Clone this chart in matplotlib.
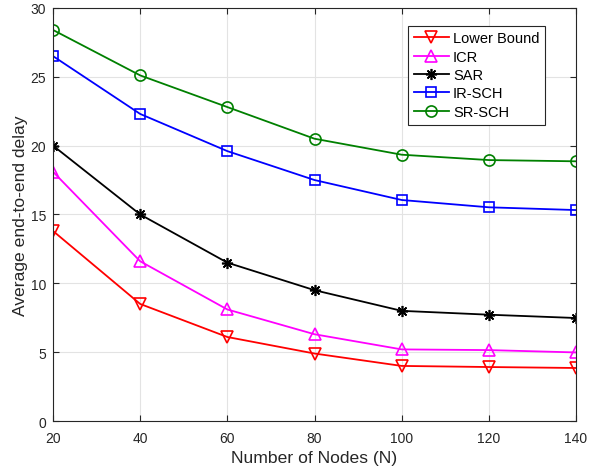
import matplotlib
matplotlib.use("Agg")
import matplotlib.pyplot as plt

plt.rcParams['font.family'] = ['Liberation Sans', 'DejaVu Sans']

nodes = [20, 40, 60, 80, 100, 120, 140]
lower_bound = [13.8, 8.5, 6.1, 4.9, 4.0, 3.92, 3.85]
icr = [18.1, 11.6, 8.1, 6.3, 5.2, 5.15, 4.98]
sar = [20.0, 15.0, 11.5, 9.5, 8.0, 7.72, 7.48]
ir_sch = [26.5, 22.3, 19.6, 17.5, 16.05, 15.52, 15.32]
sr_sch = [28.4, 25.1, 22.8, 20.5, 19.34, 18.95, 18.86]

xticks = [20, 40, 60, 80, 100, 120, 140]
yticks = [0, 5, 10, 15, 20, 25, 30]

fig = plt.figure(figsize=(5.89, 4.77), dpi=100)
ax = fig.add_axes([0.090, 0.1153, 0.888, 0.866])

lw = 1.3
ax.plot(nodes, lower_bound, color='#ff0000', marker='v', markersize=8, mfc='none', mew=1.2, lw=lw, label='Lower Bound')
ax.plot(nodes, icr, color='#ff00ff', marker='^', markersize=8, mfc='none', mew=1.2, lw=lw, label='ICR')
ax.plot(nodes, sar, color='#000000', marker=(8, 2, 0), markersize=8, mfc='none', mew=1.2, lw=lw, label='SAR')
ax.plot(nodes, ir_sch, color='#0000ff', marker='s', markersize=6.5, mfc='none', mew=1.2, lw=lw, label='IR-SCH')
ax.plot(nodes, sr_sch, color='#008000', marker='o', markersize=8, mfc='none', mew=1.2, lw=lw, label='SR-SCH')

ax.set_xlim(20, 140)
ax.set_ylim(0, 30)
ax.set_xticks(xticks)
ax.set_yticks(yticks)
ax.grid(True, color='#e3e3e3', lw=0.8)
ax.set_axisbelow(True)
ax.tick_params(direction='in', top=True, right=True, labelsize=10, colors='#262626', length=4)
ax.tick_params(axis='x', pad=7)
ax.tick_params(axis='y', pad=5)
for s in ax.spines.values():
    s.set_color('#262626')
    s.set_linewidth(0.8)
ax.set_xlabel('Number of Nodes (N)', fontsize=12.6, color='#262626', labelpad=4)
ax.set_ylabel('Average end-to-end delay', fontsize=12.6, color='#262626', labelpad=2)

leg = ax.legend(loc='upper right', bbox_to_anchor=(0.955, 0.975), fontsize=10.5, fancybox=False, framealpha=1,
                edgecolor='#262626', handlelength=2.4, borderpad=0.4, labelspacing=0.3, handletextpad=0.3)
leg.get_frame().set_linewidth(0.8)

fig.savefig('out.png', dpi=100)
